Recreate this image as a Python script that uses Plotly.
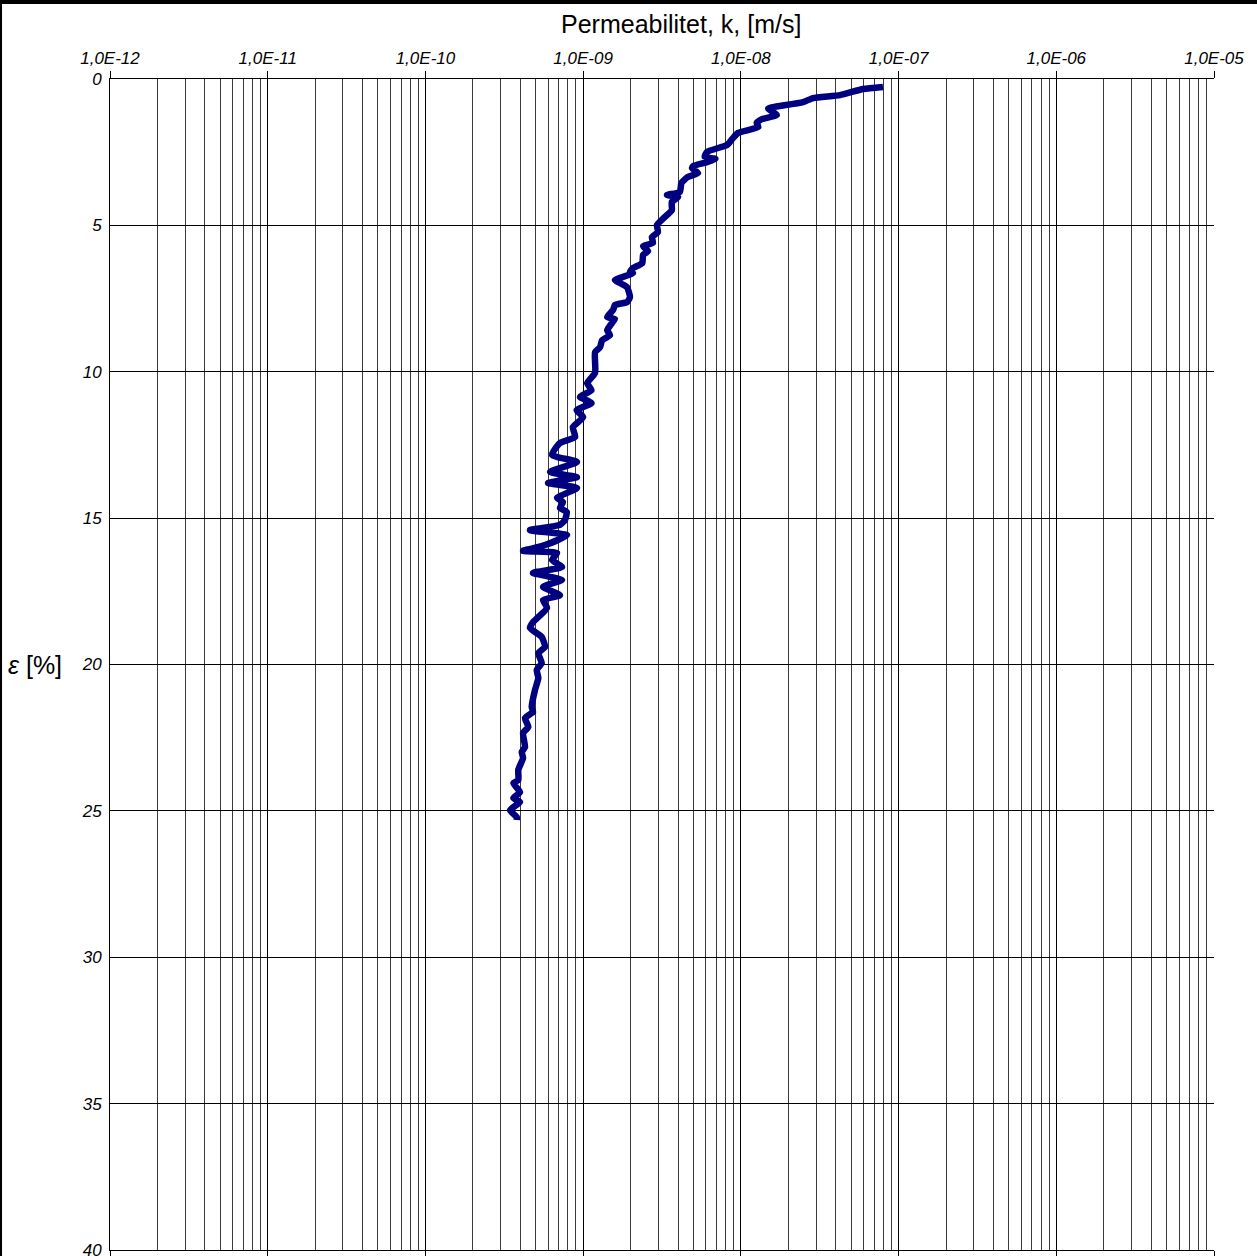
import plotly.graph_objects as go

# ---- data ----
strain_pct = [
    0.27, 0.34, 0.55, 0.65, 0.79, 0.96, 1.01, 1.23, 1.37, 1.50, 1.64, 1.84, 2.02, 2.25,
    2.49, 2.66, 2.73, 2.84, 2.97, 3.04, 3.21, 3.35, 3.55, 3.86, 3.96, 4.03, 4.20, 4.48,
    4.71, 4.99, 5.23, 5.40, 5.60, 5.71, 5.88, 6.01, 6.29, 6.46, 6.59, 6.63, 6.87, 6.97,
    7.11, 7.45, 7.62, 7.72, 7.89, 8.13, 8.20, 8.34, 8.58, 8.75, 8.92, 9.16, 9.33, 10.04,
    10.39, 10.63, 10.86, 11.07, 11.31, 11.55, 11.89, 12.23, 12.44, 12.84, 13.08, 13.42,
    13.60, 13.80, 13.97, 14.31, 14.45, 14.65, 14.79, 15.06, 15.23, 15.41, 15.58, 15.92,
    16.12, 16.19, 16.43, 16.67, 16.87, 17.11, 17.35, 17.63, 17.80, 18.07, 18.55, 18.75,
    19.06, 19.40, 19.61, 19.95, 20.19, 20.46, 20.87, 21.45, 21.62, 21.83, 22.13, 22.34,
    22.82, 22.99, 23.19, 23.60, 23.95, 24.05, 24.36, 24.56, 24.70, 24.97, 25.21, 25.31,
]
permeability = [
    7.96e-8, 5.96e-8, 4.26e-8, 2.87e-8, 2.48e-8, 1.60e-8, 1.49e-8, 1.69e-8, 1.36e-8, 1.26e-8,
    1.29e-8, 9.6e-9, 8.9e-9, 8.2e-9, 6.1e-9, 5.9e-9, 6.9e-9, 6.1e-9, 5.0e-9, 4.9e-9,
    5.35e-9, 4.6e-9, 4.2e-9, 4.1e-9, 3.4e-9, 4.0e-9, 3.65e-9, 3.65e-9, 3.3e-9, 2.94e-9,
    2.98e-9, 2.73e-9, 2.77e-9, 2.40e-9, 2.58e-9, 2.40e-9, 2.37e-9, 2.07e-9, 1.98e-9, 2.07e-9,
    1.59e-9, 1.71e-9, 1.90e-9, 1.98e-9, 1.90e-9, 1.59e-9, 1.55e-9, 1.42e-9, 1.59e-9, 1.52e-9,
    1.42e-9, 1.48e-9, 1.32e-9, 1.28e-9, 1.19e-9, 1.19e-9, 1.06e-9, 1.13e-9, 9.55e-10, 1.13e-9,
    9.1e-10, 1.0e-9, 8.6e-10, 8.9e-10, 7.1e-10, 6.35e-10, 9.14e-10, 6.17e-10, 9.14e-10, 5.99e-10,
    9.14e-10, 6.83e-10, 7.45e-10, 7.13e-10, 7.87e-10, 7.67e-10, 7.13e-10, 4.60e-10, 7.91e-10, 5.73e-10,
    4.16e-10, 6.83e-10, 6.35e-10, 7.35e-10, 4.81e-10, 7.35e-10, 5.57e-10, 7.13e-10, 5.57e-10, 5.90e-10,
    4.81e-10, 4.60e-10, 5.46e-10, 5.73e-10, 5.20e-10, 5.46e-10, 5.08e-10, 5.20e-10, 4.95e-10, 4.72e-10,
    4.81e-10, 4.28e-10, 4.49e-10, 4.16e-10, 4.28e-10, 4.08e-10, 4.16e-10, 3.88e-10, 3.88e-10, 3.61e-10,
    3.98e-10, 3.61e-10, 3.98e-10, 3.44e-10, 3.79e-10, 3.79e-10,
]

x_decades = [1e-12, 1e-11, 1e-10, 1e-9, 1e-8, 1e-7, 1e-6, 1e-5]
x_tick_labels = ["1,0E-12", "1,0E-11", "1,0E-10", "1,0E-09", "1,0E-08", "1,0E-07", "1,0E-06", "1,0E-05"]
x_minor = [m * d for d in x_decades[:-1] for m in range(2, 10)]
y_ticks = [0, 5, 10, 15, 20, 25, 30, 35, 40]

FONT = "Liberation Sans, Arial, sans-serif"

fig = go.Figure()
fig.add_trace(go.Scatter(
    x=permeability, y=strain_pct, mode="lines",
    line=dict(color="#000080", width=6.5, shape="spline", smoothing=0.5),
    showlegend=False, hoverinfo="skip", cliponaxis=False,
))

fig.update_layout(
    width=1257, height=1256,
    margin=dict(l=110, r=43, t=79, b=6, autoexpand=False),
    paper_bgcolor="white", plot_bgcolor="white",
    font=dict(family=FONT, color="black"),
    xaxis=dict(
        type="log", side="top", range=[-12, -5], automargin=False,
        tickmode="array", tickvals=x_decades, ticktext=x_tick_labels,
        tickfont=dict(family=FONT, size=17, style="italic", color="black"),
        ticks="outside", ticklen=7, tickcolor="black", tickwidth=1,
        ticklabeloverflow="allow",
        showline=True, linecolor="black", linewidth=1, mirror="ticks",
        showgrid=True, gridcolor="black", gridwidth=1,
        minor=dict(tickmode="array", tickvals=x_minor, showgrid=True,
                   gridcolor="#3a3a3a", gridwidth=1, ticks=""),
        zeroline=False,
    ),
    yaxis=dict(
        range=[40, 0], tickmode="array", tickvals=y_ticks, automargin=False,
        tickfont=dict(family=FONT, size=17, style="italic", color="black"),
        ticks="", ticklabelstandoff=4, ticklabeloverflow="allow",
        showline=True, linecolor="black", linewidth=1,
        showgrid=True, gridcolor="black", gridwidth=1, zeroline=False,
    ),
    shapes=[
        dict(type="rect", xref="paper", yref="paper", x0=-0.11, x1=1.05,
             y0=1.0641, y1=1.08, fillcolor="black", line=dict(width=0), layer="above"),
        dict(type="rect", xref="paper", yref="paper", x0=-0.11, x1=-0.0978,
             y0=-0.01, y1=1.08, fillcolor="black", line=dict(width=0), layer="above"),
    ],
    annotations=[
        dict(text="Permeabilitet, k, [m/s]", xref="paper", yref="paper",
             x=0.517, y=1.047, xanchor="center", yanchor="middle", showarrow=False,
             font=dict(family=FONT, size=25, color="black")),
        dict(text="<i>ε</i> [%]", xref="paper", yref="paper",
             x=-0.068, y=0.5, xanchor="center", yanchor="middle", showarrow=False,
             font=dict(family=FONT, size=25, color="black")),
    ],
)

fig.write_html("out.html")
